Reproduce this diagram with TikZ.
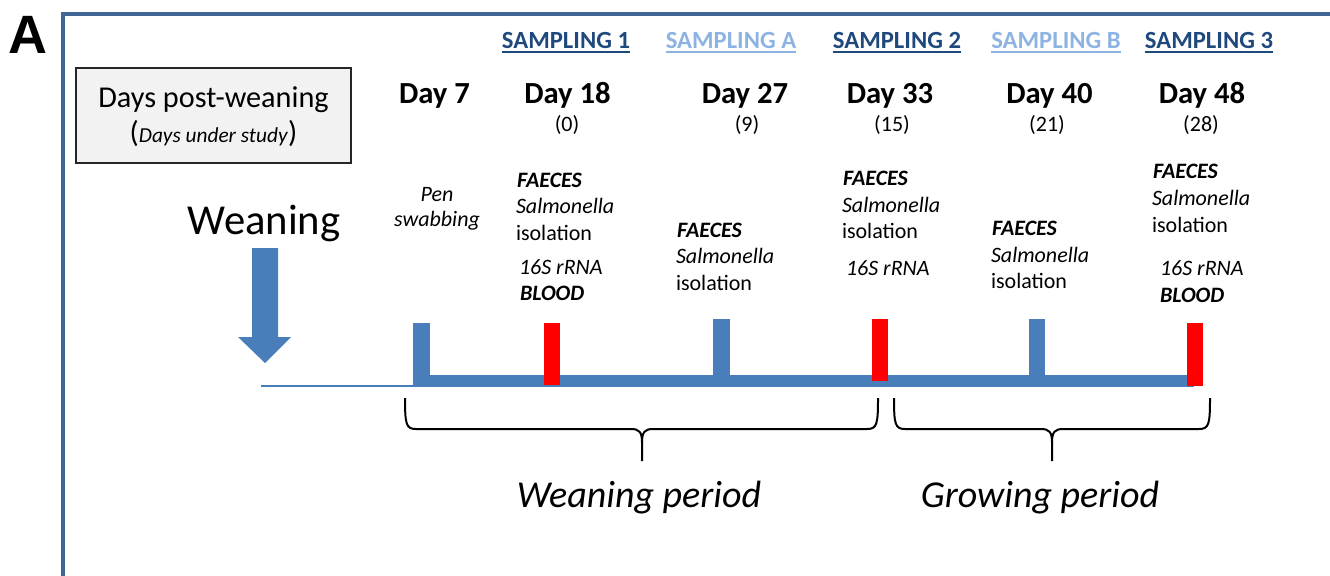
\documentclass[tikz,border=0pt]{standalone}
\usepackage{fontspec}
\setmainfont{Carlito}
\newfontfamily\arialfont{Liberation Sans}
\definecolor{frameblue}{HTML}{3F6696}
\definecolor{lineblue}{HTML}{4A7EBB}
\definecolor{sampdark}{HTML}{1F497D}
\definecolor{samplight}{HTML}{8DB3E2}
\definecolor{boxgray}{HTML}{F2F2F2}
\definecolor{tickred}{HTML}{FF0000}
\newcommand\mySamp{\fontsize{18.5}{22}\selectfont\bfseries}
\newcommand\myDay{\fontsize{23}{27}\selectfont\bfseries}
\newcommand\myPar{\fontsize{16.5}{20}\selectfont}
\newcommand\myBody{\fontsize{16.5}{20}\selectfont}
\newcommand\myBig{\fontsize{32}{38}\selectfont}
\newcommand\myBoxf{\fontsize{22.7}{27}\selectfont}
\newcommand\myStudy{\fontsize{16}{19}\selectfont\itshape}
\newcommand\myPeriod{\fontsize{28.5}{34}\selectfont\itshape}
\tikzset{
  txt/.style={inner sep=0pt, outer sep=0pt, anchor=base west},
  ctxt/.style={inner sep=0pt, outer sep=0pt, anchor=base},
  bfi/.style={txt, font=\myBody\bfseries\itshape},
  itx/.style={txt, font=\myBody\itshape},
  rmx/.style={txt, font=\myBody},
  samp/.style={ctxt, font=\mySamp},
  dayl/.style={ctxt, font=\myDay},
  parl/.style={ctxt, font=\myPar},
  bluetick/.style={fill=lineblue, draw=none},
  redtick/.style={fill=tickred, draw=none},
  bracel/.style={draw=black, line width=1.5pt},
  uline/.style={line width=1.2pt}
}
\begin{document}
\begin{tikzpicture}[x=0.75pt, y=-0.75pt]
\useasboundingbox (0,0) rectangle (1330,575);
% panel letter
\node[txt, font=\arialfont\fontsize{40.5}{46}\selectfont\bfseries] (lettera) at (8,53) {A};
% frame
\draw[frameblue, line width=3pt] (63,577) -- (63,14) -- (1332,14);
% days box
\node[draw=black!85, line width=1.2pt, fill=boxgray, minimum width=275*0.75pt, minimum height=95*0.75pt, inner sep=0pt] (daysbox) at (213.5,115.5) {};
\node[ctxt, font=\myBoxf] (boxl1) at (213.5,107) {Days post-weaning};
\node[ctxt, font=\myBoxf] (boxl2) at (213.5,142) {(\myStudy Days under study\/\myBoxf\upshape)};
% sampling headers
\foreach \nm/\xx/\txt/\col in {s1/566/SAMPLING 1/sampdark, sa/731/SAMPLING A/samplight, s2/897/SAMPLING 2/sampdark, sb/1056/SAMPLING B/samplight, s3/1209/SAMPLING 3/sampdark}{
  \node[samp, text=\col] (\nm) at (\xx,48) {\txt};
  \draw[\col, uline] ([yshift=-3.2pt]\nm.base west) -- ([yshift=-3.2pt]\nm.base east);
}
% day labels
\node[dayl] (d7) at (434.5,103) {Day 7};
\node[dayl] (d18) at (567.5,103) {Day 18};
\node[dayl] (d27) at (745,103) {Day 27};
\node[dayl] (d33) at (890,103) {Day 33};
\node[dayl] (d40) at (1049.5,103) {Day 40};
\node[dayl] (d48) at (1202,103) {Day 48};
\node[parl] (p18) at (567,131) {(0)};
\node[parl] (p27) at (747,131) {(9)};
\node[parl] (p33) at (892,131) {(15)};
\node[parl] (p40) at (1047,131) {(21)};
\node[parl] (p48) at (1201,131) {(28)};
% weaning arrow
\node[ctxt, font=\myBig] (weaning) at (264,234) {Weaning};
\fill[lineblue] (252,248) -- (278,248) -- (278,337) -- (291,337) -- (265,363) -- (238,337) -- (252,337) -- cycle;
% column texts
\node[ctxt, font=\myBody\itshape] (pen1) at (437,201) {Pen};
\node[ctxt, font=\myBody\itshape] (pen2) at (437,226) {swabbing};
\node[bfi] (f18) at (517,187) {FAECES};
\node[itx] (s18) at (516,213) {Salmonella};
\node[rmx] (i18) at (516,240) {isolation};
\node[itx] (r18) at (519,274) {16S rRNA};
\node[bfi] (b18) at (520,300) {BLOOD};
\node[bfi] (f27) at (677,237) {FAECES};
\node[itx] (s27) at (676,263) {Salmonella};
\node[rmx] (i27) at (676,290) {isolation};
\node[bfi] (f33) at (843,185) {FAECES};
\node[itx] (s33) at (842,212) {Salmonella};
\node[rmx] (i33) at (842,238) {isolation};
\node[itx] (r33) at (846,275) {16S rRNA};
\node[bfi] (f40) at (992,235) {FAECES};
\node[itx] (s40) at (991,262) {Salmonella};
\node[rmx] (i40) at (991,288) {isolation};
\node[bfi] (f48) at (1153,178) {FAECES};
\node[itx] (s48) at (1152,205) {Salmonella};
\node[rmx] (i48) at (1152,232) {isolation};
\node[itx] (r48) at (1160,275) {16S rRNA};
\node[bfi] (b48) at (1160,302) {BLOOD};
% timeline
\fill[lineblue] (261,385) rectangle (415,387);
\fill[lineblue] (413,375) rectangle (1194,387);
\fill[bluetick] (413,323) rectangle (430,376);
\fill[bluetick] (713,319) rectangle (730,376);
\fill[bluetick] (1029,319) rectangle (1045,376);
\fill[redtick] (544,323) rectangle (560,385);
\fill[redtick] (872,319) rectangle (888,381);
\fill[redtick] (1187,323) rectangle (1203,386);
% braces
\draw[bracel] (405,398) .. controls (405,424) and (406,429) .. (416,429) -- (631,429) .. controls (639,429) and (642,432) .. (642,442) -- (642,461);
\draw[bracel] (878,398) .. controls (878,424) and (877,429) .. (867,429) -- (653,429) .. controls (645,429) and (642,432) .. (642,442);
\draw[bracel] (894,398) .. controls (894,424) and (895,429) .. (905,429) -- (1041,429) .. controls (1049,429) and (1052,432) .. (1052,442) -- (1052,461);
\draw[bracel] (1210,398) .. controls (1210,424) and (1209,429) .. (1199,429) -- (1063,429) .. controls (1055,429) and (1052,432) .. (1052,442);
\node[ctxt, font=\myPeriod] (wp) at (639,507) {Weaning period};
\node[ctxt, font=\myPeriod] (gp) at (1040,507) {Growing period};
\end{tikzpicture}
\end{document}
